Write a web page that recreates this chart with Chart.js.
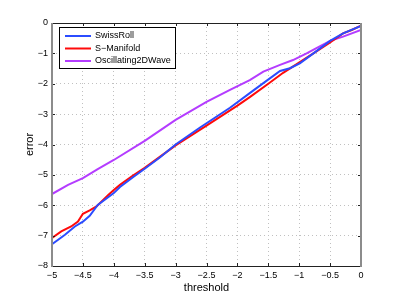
<!DOCTYPE html>
<html>
<head>
<meta charset="utf-8">
<script src="https://cdn.jsdelivr.net/npm/chart.js@4/dist/chart.umd.min.js"></script>
<style>
  html, body { margin: 0; padding: 0; background: #fff; }
  #wrap { width: 399px; height: 300px; }
</style>
</head>
<body>
<div id="wrap"><canvas id="errPlot" width="399" height="300"></canvas></div>
<script>
// Data
const swissX = [-5, -4.79, -4.63, -4.5, -4.39, -4.26, -4.0, -3.9, -3.69, -3.5, -3.25, -3.0, -2.61, -2.12, -1.8, -1.58, -1.31, -1.15, -0.99, -0.77, -0.5, -0.29, 0];
const swissY = [-7.28, -6.97, -6.70, -6.54, -6.35, -5.99, -5.6, -5.4, -5.08, -4.8, -4.42, -4.0, -3.45, -2.79, -2.31, -1.98, -1.58, -1.49, -1.33, -1.0, -0.59, -0.34, -0.1];

const smanX = [-5, -4.85, -4.69, -4.58, -4.5, -4.39, -4.28, -4.09, -4.0, -3.9, -3.69, -3.5, -3.25, -3.0, -2.5, -2.0, -1.8, -1.5, -1.26, -0.99, -0.77, -0.5, -0.29, -0.15, 0];
const smanY = [-7.08, -6.86, -6.70, -6.54, -6.28, -6.17, -6.04, -5.66, -5.5, -5.33, -5.02, -4.77, -4.4, -4.03, -3.38, -2.72, -2.44, -2.0, -1.64, -1.29, -1.0, -0.64, -0.34, -0.23, -0.09];

const waveX = [-5, -4.74, -4.5, -4.26, -4.0, -3.5, -3.0, -2.5, -2.12, -1.8, -1.58, -1.31, -1.1, -0.88, -0.66, -0.5, -0.29, 0];
const waveY = [-5.63, -5.33, -5.11, -4.81, -4.51, -3.88, -3.19, -2.6, -2.2, -1.88, -1.6, -1.38, -1.22, -1.0, -0.76, -0.59, -0.45, -0.23];

const seriesNames = ['SwissRoll', 'S\u2212Manifold', 'Oscillating2DWave'];
const seriesColors = ['#2b4cff', '#ff0a0a', '#b43cff'];

const xTicks = [-5, -4.5, -4, -3.5, -3, -2.5, -2, -1.5, -1, -0.5, 0];
const yTicks = [0, -1, -2, -3, -4, -5, -6, -7, -8];

function toPoints(xs, ys) {
    return xs.map((x, i) => ({ x: x, y: ys[i] }));
}

function fmtTick(v) {
    if (Math.abs(v) < 1e-9) return '0';
    return String(v).replace('-', '\u2212');
}

const font = "'Liberation Sans', Arial, Helvetica, sans-serif";

// box, inward ticks and legend like the matlab figure
const framePlugin = {
    id: 'frame',
    afterDatasetsDraw(chart) {
        const c = chart.ctx;
        const a = chart.chartArea;
        const xs = chart.scales.x, ys = chart.scales.y;
        c.save();
        // ticks
        c.strokeStyle = '#222';
        c.lineWidth = 1;
        c.beginPath();
        xTicks.forEach(v => {
            const px = Math.round(xs.getPixelForValue(v)) + 0.5;
            c.moveTo(px, a.bottom); c.lineTo(px, a.bottom - 3);
            c.moveTo(px, a.top); c.lineTo(px, a.top + 3);
        });
        yTicks.forEach(v => {
            const py = Math.round(ys.getPixelForValue(v)) + 0.5;
            c.moveTo(a.left, py); c.lineTo(a.left + 3, py);
            c.moveTo(a.right, py); c.lineTo(a.right - 3, py);
        });
        c.stroke();
        // top/bottom black
        c.beginPath();
        c.moveTo(a.left, a.top + 0.5); c.lineTo(a.right, a.top + 0.5);
        c.moveTo(a.left, a.bottom + 0.5); c.lineTo(a.right, a.bottom + 0.5);
        c.stroke();
        // left/right grey
        c.strokeStyle = '#8c8c8c';
        c.lineWidth = 2;
        c.beginPath();
        c.moveTo(a.left, a.top); c.lineTo(a.left, a.bottom + 1);
        c.moveTo(a.right, a.top); c.lineTo(a.right, a.bottom + 1);
        c.stroke();

        // legend
        const lx = 59.5, ly = 27.5, lw = 116, lh = 41;
        c.fillStyle = '#fff';
        c.fillRect(lx, ly, lw, lh);
        c.strokeStyle = '#000';
        c.lineWidth = 1;
        c.strokeRect(lx, ly, lw, lh);
        c.font = '9px ' + font;
        c.textBaseline = 'middle';
        chart.data.datasets.forEach((ds, i) => {
            const rowY = 36 + i * 12.5;
            c.strokeStyle = ds.borderColor;
            c.lineWidth = 2;
            c.beginPath();
            c.moveTo(65, rowY); c.lineTo(91, rowY);
            c.stroke();
            c.fillStyle = '#000';
            c.fillText(ds.label, 95, rowY);
        });
        c.restore();
    }
};

const ctx = document.getElementById('errPlot').getContext('2d');
const chart = new Chart(ctx, {
    type: 'line',
    data: {
        datasets: [
            { label: seriesNames[0], data: toPoints(swissX, swissY), borderColor: seriesColors[0] },
            { label: seriesNames[1], data: toPoints(smanX, smanY), borderColor: seriesColors[1] },
            { label: seriesNames[2], data: toPoints(waveX, waveY), borderColor: seriesColors[2] }
        ].map(d => Object.assign(d, { borderWidth: 2, pointRadius: 0, tension: 0, fill: false }))
    },
    options: {
        responsive: false,
        animation: false,
        events: [],
        layout: { padding: { left: 23, top: 23, right: 38, bottom: 0 } },
        plugins: { legend: { display: false }, tooltip: { enabled: false } },
        scales: {
            x: {
                type: 'linear',
                min: -5, max: 0,
                afterFit: s => { s.height = 34; },
                afterBuildTicks: s => { s.ticks = xTicks.map(v => ({ value: v })); },
                ticks: { callback: fmtTick, color: '#000', font: { family: font, size: 9 }, padding: 4, maxRotation: 0, autoSkip: false },
                grid: { color: '#c0c0c0', drawTicks: false, lineWidth: 1 },
                border: { display: false, dash: [1, 3] },
                title: { display: true, text: 'threshold', color: '#000', font: { family: font, size: 11 }, padding: { top: 0, bottom: 5 } }
            },
            y: {
                type: 'linear',
                min: -8, max: 0,
                afterFit: s => { s.width = 29; },
                afterBuildTicks: s => { s.ticks = yTicks.map(v => ({ value: v })); },
                ticks: { callback: fmtTick, color: '#000', font: { family: font, size: 9 }, padding: 4, autoSkip: false },
                grid: { color: '#c0c0c0', drawTicks: false, lineWidth: 1 },
                border: { display: false, dash: [1, 3] },
                title: { display: true, text: 'error', color: '#000', font: { family: font, size: 11 }, padding: { top: 0, bottom: 0 } }
            }
        }
    },
    plugins: [framePlugin]
});
</script>
</body>
</html>
